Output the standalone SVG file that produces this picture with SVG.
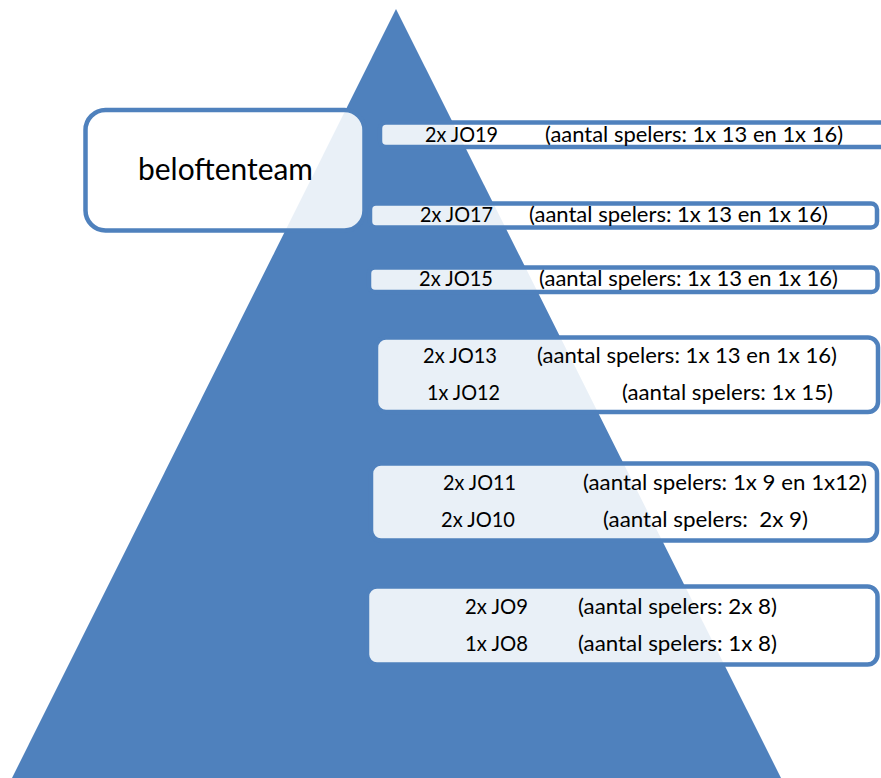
<svg xmlns="http://www.w3.org/2000/svg" width="881" height="778" viewBox="0 0 881 778">
<style>
.tri{fill:#4F81BD;}
.box{fill:#FFFFFF;fill-opacity:0.88;stroke:#4F81BD;stroke-width:4.5;}
.t{font-family:Lato,"Liberation Sans",sans-serif;font-size:22px;fill:#000000;}
.big{font-family:Lato,"Liberation Sans",sans-serif;font-size:31px;fill:#000000;}
</style>
<rect x="0" y="0" width="881" height="778" fill="#FFFFFF"/>
<g id="pyramid">
<polygon class="tri" points="396,9 781,778 12,778"/>
</g>
<g id="beloftenteam">
<rect class="box" x="85.5" y="110" width="279" height="120.5" rx="20"/>
<text class="big" x="138" y="180" textLength="175" lengthAdjust="spacingAndGlyphs">beloftenteam</text>
</g>
<g id="jo19">
<rect class="box" x="380" y="122.5" width="520" height="24.5" rx="6"/>
<text class="t" x="425" y="142" textLength="73" lengthAdjust="spacingAndGlyphs">2x JO19</text>
<text class="t" x="545" y="142" textLength="298" lengthAdjust="spacingAndGlyphs">(aantal spelers: 1x 13 en 1x 16)</text>
</g>
<g id="jo17">
<rect class="box" x="370" y="203.5" width="507" height="24" rx="6"/>
<text class="t" x="420" y="222" textLength="73" lengthAdjust="spacingAndGlyphs">2x JO17</text>
<text class="t" x="529" y="222" textLength="299" lengthAdjust="spacingAndGlyphs">(aantal spelers: 1x 13 en 1x 16)</text>
</g>
<g id="jo15">
<rect class="box" x="369" y="267.5" width="508.5" height="24.5" rx="6"/>
<text class="t" x="419" y="286" textLength="74" lengthAdjust="spacingAndGlyphs">2x JO15</text>
<text class="t" x="539" y="286" textLength="299" lengthAdjust="spacingAndGlyphs">(aantal spelers: 1x 13 en 1x 16)</text>
</g>
<g id="jo13-jo12">
<rect class="box" x="376" y="337.5" width="502" height="74.5" rx="10"/>
<text class="t" x="423" y="363" textLength="74" lengthAdjust="spacingAndGlyphs">2x JO13</text>
<text class="t" x="537" y="363" textLength="300" lengthAdjust="spacingAndGlyphs">(aantal spelers: 1x 13 en 1x 16)</text>
<text class="t" x="427" y="400" textLength="73" lengthAdjust="spacingAndGlyphs">1x JO12</text>
<text class="t" x="622" y="400" textLength="211" lengthAdjust="spacingAndGlyphs">(aantal spelers: 1x 15)</text>
</g>
<g id="jo11-jo10">
<rect class="box" x="371" y="463.5" width="506" height="77" rx="10"/>
<text class="t" x="443" y="490" textLength="73" lengthAdjust="spacingAndGlyphs">2x JO11</text>
<text class="t" x="583" y="490" textLength="284" lengthAdjust="spacingAndGlyphs">(aantal spelers: 1x 9 en 1x12)</text>
<text class="t" x="441" y="527" textLength="74" lengthAdjust="spacingAndGlyphs">2x JO10</text>
<text class="t" x="603" y="527" textLength="205" lengthAdjust="spacingAndGlyphs" xml:space="preserve">(aantal spelers:  2x 9)</text>
</g>
<g id="jo9-jo8">
<rect class="box" x="367" y="586.5" width="510.5" height="78" rx="10"/>
<text class="t" x="465" y="614" textLength="63" lengthAdjust="spacingAndGlyphs">2x JO9</text>
<text class="t" x="578" y="614" textLength="199" lengthAdjust="spacingAndGlyphs">(aantal spelers: 2x 8)</text>
<text class="t" x="465" y="651" textLength="63" lengthAdjust="spacingAndGlyphs">1x JO8</text>
<text class="t" x="578" y="651" textLength="199" lengthAdjust="spacingAndGlyphs">(aantal spelers: 1x 8)</text>
</g>
<g id="connectors"/>
</svg>
